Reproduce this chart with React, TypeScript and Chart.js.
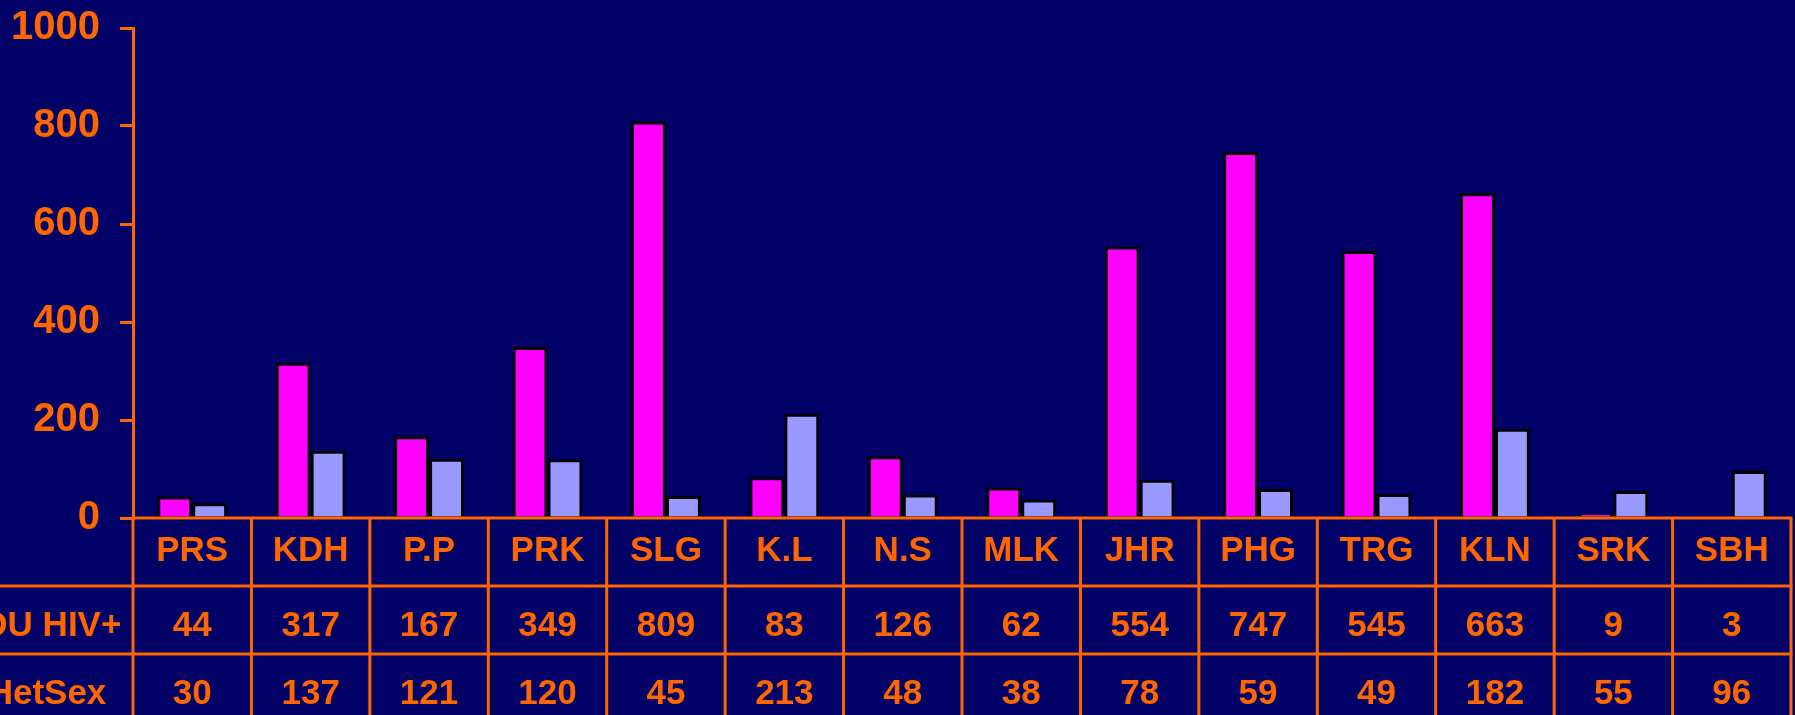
import React, { useEffect, useRef } from "react";
import { Chart, registerables } from "chart.js";

Chart.register(...registerables);

const categories = ["PRS", "KDH", "P.P", "PRK", "SLG", "K.L", "N.S", "MLK", "JHR", "PHG", "TRG", "KLN", "SRK", "SBH"];
const iduHiv = [44, 317, 167, 349, 809, 83, 126, 62, 554, 747, 545, 663, 9, 3];
const hetSex = [30, 137, 121, 120, 45, 213, 48, 38, 78, 59, 49, 182, 55, 96];
const seriesLabels = ["IDU HIV+", "HetSex"];
const yMin = 0;
const yMax = 1000;
const yStep = 200;

const NAVY = "#000066";
const ORANGE = "#FF6600";
const MAGENTA = "#FF00FF";
const LAVENDER = "#9999FF";
const FONT = "'Liberation Sans', Arial, Helvetica, sans-serif";

const tablePlugin = {
  id: "dataTable",
  beforeDraw(chart: any) {
    const ctx = chart.ctx;
    ctx.save();
    ctx.fillStyle = NAVY;
    ctx.fillRect(0, 0, chart.width, chart.height);
    ctx.restore();
  },
  afterDraw(chart: any) {
    const { ctx, chartArea } = chart;
    const xs = chart.scales.x;
    const n = categories.length;
    const colW = (chartArea.right - chartArea.left) / n;
    const top = chartArea.bottom;
    const rowH = 68;
    const bottom = chart.height;
    ctx.save();
    ctx.strokeStyle = ORANGE;
    ctx.lineWidth = 3;
    const line = (x1: number, y1: number, x2: number, y2: number) => {
      ctx.beginPath();
      ctx.moveTo(x1, y1);
      ctx.lineTo(x2, y2);
      ctx.stroke();
    };
    line(chartArea.left, top, chartArea.right + 1.5, top);
    for (let r = 1; r <= 2; r++) {
      line(0, top + r * rowH, chartArea.right + 1.5, top + r * rowH);
    }
    for (let i = 0; i <= n; i++) {
      const xx = chartArea.left + i * colW;
      line(xx, top, xx, bottom);
    }
    ctx.fillStyle = ORANGE;
    ctx.font = `bold 35px ${FONT}`;
    ctx.textAlign = "center";
    ctx.textBaseline = "alphabetic";
    categories.forEach((c, i) => {
      ctx.fillText(c, xs.getPixelForValue(i), top + 43);
    });
    const rows = [iduHiv, hetSex];
    rows.forEach((arr, r) => {
      const base = top + rowH * (r + 1) + 50;
      ctx.fillText(seriesLabels[r], 47, base);
      arr.forEach((v, i) => {
        ctx.fillText(String(v), xs.getPixelForValue(i), base);
      });
    });
    ctx.restore();
  },
};

export default function App() {
  const ref = useRef<HTMLCanvasElement | null>(null);
  useEffect(() => {
    document.body.style.margin = "0";
    document.body.style.background = NAVY;
    const canvas = ref.current;
    if (!canvas) return;
    const chart = new Chart(canvas, {
      type: "bar",
      data: {
        labels: categories,
        datasets: [
          {
            label: seriesLabels[0],
            data: iduHiv,
            backgroundColor: MAGENTA,
            borderColor: "#000000",
            borderWidth: 3,
            borderSkipped: "start",
            categoryPercentage: 0.59,
            barPercentage: 1,
          },
          {
            label: seriesLabels[1],
            data: hetSex,
            backgroundColor: LAVENDER,
            borderColor: "#000000",
            borderWidth: 3,
            borderSkipped: "start",
            categoryPercentage: 0.59,
            barPercentage: 1,
          },
        ],
      },
      options: {
        responsive: false,
        animation: false,
        devicePixelRatio: 1,
        layout: { padding: { left: 0, top: 28, right: 4, bottom: 197 } },
        plugins: {
          legend: { display: false },
          tooltip: { enabled: false },
        },
        scales: {
          x: {
            display: false,
          },
          y: {
            min: yMin,
            max: yMax,
            ticks: {
              stepSize: yStep,
              color: ORANGE,
              padding: 20,
              font: { family: FONT, weight: "bold", size: 40 },
              callback: (v: any) => String(v),
            },
            grid: {
              drawOnChartArea: false,
              drawTicks: true,
              tickLength: 13,
              color: ORANGE,
              lineWidth: 3,
            },
            border: { display: true, color: ORANGE, width: 3 },
            afterFit(scale: any) {
              scale.width = 133;
              scale.paddingTop = 0;
              scale.paddingBottom = 0;
            },
          },
        },
      },
      plugins: [tablePlugin],
    } as any);
    return () => chart.destroy();
  }, []);
  return (
    <div style={{ position: "absolute", left: 0, top: 0, width: 1795, height: 715, background: NAVY }}>
      <canvas ref={ref} width={1795} height={715} style={{ display: "block" }} />
    </div>
  );
}
